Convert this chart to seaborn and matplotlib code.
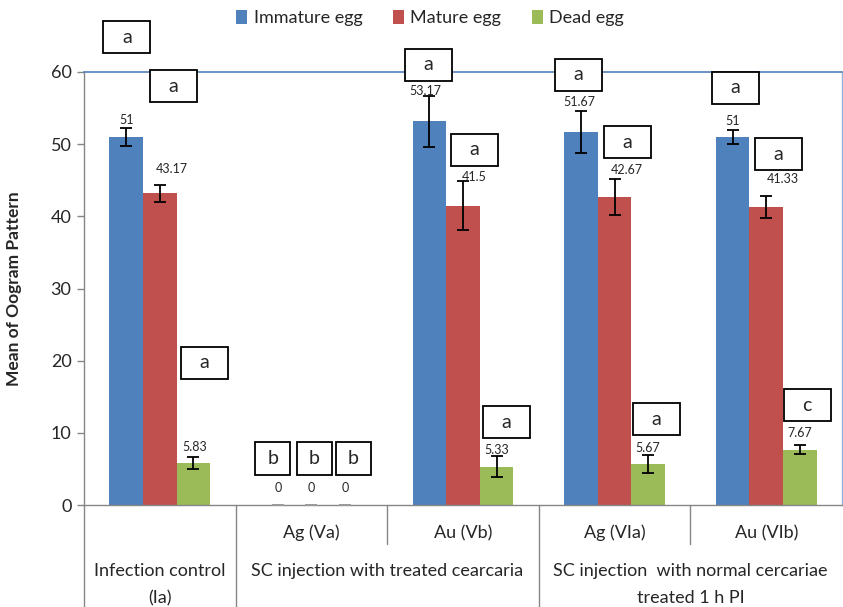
import matplotlib
matplotlib.use("Agg")
import matplotlib.pyplot as plt
import matplotlib.transforms as mtransforms
from matplotlib.patches import Rectangle
from matplotlib.lines import Line2D
import seaborn as sns
import pandas as pd

# ---- data -------------------------------------------------------------
groups = ["Ia", "Va", "Vb", "VIa", "VIb"]
series = ["Immature egg", "Mature egg", "Dead egg"]
immature = [51, 0, 53.17, 51.67, 51]
mature = [43.17, 0, 41.5, 42.67, 41.33]
dead = [5.83, 0, 5.33, 5.67, 7.67]
immature_err = [1.3, 0, 3.5, 2.9, 1.0]
mature_err = [1.15, 0, 3.45, 2.5, 1.55]
dead_err = [0.8, 0, 1.5, 1.2, 0.6]
immature_sig = ["a", "b", "a", "a", "a"]
mature_sig = ["a", "b", "a", "a", "a"]
dead_sig = ["a", "b", "a", "a", "c"]

sub_labels = ["", "Ag (Va)", "Au (Vb)", "Ag (VIa)", "Au (VIb)"]
top_labels = ["Infection control\n(Ia)",
              "SC injection with treated cearcaria",
              "SC injection  with normal cercariae\ntreated 1 h PI"]
top_label_x = [0, 1.5, 3.5]

colors = ["#4F81BD", "#C0504D", "#9BBB59"]

# ---- layout of annotations ---------------------------------------------
# centres of the significance-letter boxes (data units), per series
box_pos = [
    [(-0.217, 64.8), (0.746, 6.5), (1.770, 61.0), (2.763, 59.6), (3.796, 57.8)],
    [(0.09, 58.0), (1.018, 6.5), (2.076, 49.2), (3.086, 50.3), (4.079, 48.6)],
    [(0.293, 19.7), (1.276, 6.5), (2.288, 11.5), (3.275, 11.9), (4.270, 13.85)],
]
# value-label offsets above the bar top (pixels: dx, dy)
label_off = [
    [(0, 17), (0, 17), (-4, 30), (-2, 30), (0, 16)],
    [(12, 24), (0, 17), (11, 29), (12, 27), (17, 28)],
    [(1, 16), (0, 17), (0, 16.5), (0, 16), (0, 17)],
]

values = [immature, mature, dead]
errors = [immature_err, mature_err, dead_err]
sigs = [immature_sig, mature_sig, dead_sig]

df = pd.DataFrame({
    "group": groups * 3,
    "series": sum([[s] * len(groups) for s in series], []),
    "value": immature + mature + dead,
})

sns.set_style("white")
plt.rcParams["font.family"] = ["Lato", "DejaVu Sans"]

W, H = 843, 607
fig = plt.figure(figsize=(W / 100, H / 100), dpi=100)
ax = fig.add_axes([84 / W, (H - 505) / H, (842 - 84) / W, (505 - 72) / H])

sns.barplot(data=df, x="group", y="value", hue="series", order=groups,
            hue_order=series, palette=colors, width=0.665, saturation=1,
            errorbar=None, ax=ax, legend=True, edgecolor="none", linewidth=0)

ax.set_xlim(-0.5, 4.5)
ax.set_ylim(0, 60)
ax.set_yticks(range(0, 61, 10))
ax.tick_params(axis="y", labelsize=13, length=5, width=1, color="#868686",
               direction="out", left=True, pad=4)
ax.set_xticks([])
ax.set_xlabel("")
ax.set_ylabel("Mean of Oogram Pattern", fontsize=12.5, fontweight="bold")
ax.yaxis.set_label_coords(-0.082, 0.5)

for side in ["left", "bottom"]:
    ax.spines[side].set_color("#868686")
    ax.spines[side].set_linewidth(1.0)
ax.spines["top"].set_color("#4F81BD")
ax.spines["top"].set_linewidth(1.2)
ax.spines["right"].set_color("#95B3D7")
ax.spines["right"].set_linewidth(1.0)
for s in ax.spines.values():
    s.set_visible(True)

# error bars and value labels on each bar
bar_containers = list(ax.containers)
for si, container in enumerate(bar_containers):
    for gi, bar in enumerate(container):
        xc = bar.get_x() + bar.get_width() / 2
        v = values[si][gi]
        e = errors[si][gi]
        ax.errorbar(xc, v, yerr=e, fmt="none",
                    ecolor="black" if e > 0 else "#9a9a9a",
                    elinewidth=1.3, capsize=4.5, capthick=1.3, zorder=4,
                    clip_on=False)
        dx, dy = label_off[si][gi]
        ax.annotate(f"{v:g}", (xc, v), xytext=(dx, dy),
                    textcoords="offset pixels", ha="center", va="center",
                    fontsize=9, zorder=5)

# significance letters in boxes
for si in range(3):
    for gi in range(len(groups)):
        x, y = box_pos[si][gi]
        letter = sigs[si][gi]
        bw, bh = (0.35, 0.33) if letter == "b" else (0.47, 0.32)
        tr = fig.dpi_scale_trans + mtransforms.ScaledTranslation(x, y, ax.transData)
        ax.add_patch(Rectangle((-bw / 2, -bh / 2), bw, bh, transform=tr,
                               facecolor="white", edgecolor="black",
                               linewidth=1.3, clip_on=False, zorder=6))
        ax.text(x, y, letter, ha="center", va="center", fontsize=14,
                zorder=7, clip_on=False)

# two-level category axis
bt = mtransforms.blended_transform_factory(ax.transData, fig.transFigure)
for gi, lab in enumerate(sub_labels):
    if lab:
        ax.text(gi, (H - 533) / H, lab, transform=bt, ha="center",
                va="center", fontsize=13, clip_on=False)
for x, lab in zip(top_label_x, top_labels):
    lines = lab.split("\n")
    for li, line in enumerate(lines):
        ax.text(x, (H - 571 - 27 * li) / H, line, transform=bt, ha="center",
                va="center", fontsize=13, clip_on=False)

y_axis = (H - 505) / H
y_mid = (H - 544) / H
for xd, ybot in [(-0.5, 0.0), (0.5, 0.0), (1.5, y_mid), (2.5, 0.0), (3.5, y_mid)]:
    ax.add_line(Line2D([xd, xd], [y_axis, ybot], transform=bt,
                       color="#868686", linewidth=1.0, clip_on=False))

# legend
handles, labels = ax.get_legend_handles_labels()
ax.get_legend().remove()
fig.legend(handles, labels, loc="center", bbox_to_anchor=(430 / W, (H - 18) / H),
           ncol=3, frameon=False, fontsize=13, handlelength=0.6,
           handleheight=0.8, handletextpad=0.35, columnspacing=1.7)

fig.savefig("out.png", dpi=100)
